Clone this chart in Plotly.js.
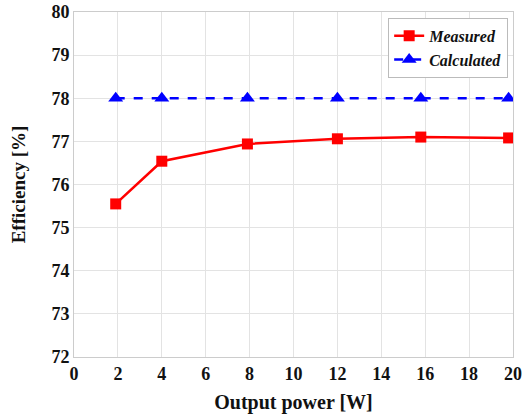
<!DOCTYPE html>
<html>
<head>
<meta charset="utf-8">
<script src="https://cdn.plot.ly/plotly-3.0.1.min.js"></script>
<style>html,body{margin:0;padding:0;background:#fff;}#chart{width:522px;height:417px;}</style>
</head>
<body>
<div id="chart"></div>
<script>
const measuredX = [1.9, 4, 7.9, 12, 15.8, 19.8];
const measuredY = [75.55, 76.54, 76.94, 77.06, 77.1, 77.08];
const calculatedX = [1.9, 4, 7.9, 12, 15.8, 19.8];
const calculatedY = [78, 78, 78, 78, 78, 78];
const xTicks = [0, 2, 4, 6, 8, 10, 12, 14, 16, 18, 20];
const yTicks = [72, 73, 74, 75, 76, 77, 78, 79, 80];

const font = "Liberation Serif";
const traces = [
  {x: measuredX, y: measuredY, name: '<b><i>Measured</i></b>', mode: 'lines+markers',
   line: {color: '#ff0000', width: 2.5}, marker: {symbol: 'square', size: 11, color: '#ff0000'}},
  {x: calculatedX, y: calculatedY, name: '<b><i>Calculated</i></b>', mode: 'lines+markers',
   line: {color: '#0000ff', width: 2.5, dash: 'dash'}, marker: {symbol: 'triangle-up', size: 13, color: '#0000ff'}}
];
const layout = {
  width: 522, height: 417,
  margin: {l: 74, r: 9, t: 12, b: 60},
  paper_bgcolor: '#fff', plot_bgcolor: '#fff',
  font: {family: font, color: '#111', size: 16},
  showlegend: true,
  legend: {x: 0.989, y: 0.983, xanchor: 'right', yanchor: 'top', bgcolor: '#fff',
    bordercolor: '#bbb', borderwidth: 1, font: {family: font, size: 16, color: '#111'}, tracegroupgap: 0,
    itemwidth: 30},
  xaxis: {range: [0, 20], tickvals: xTicks, ticktext: xTicks.map(v => '<b>' + v + '</b>'),
    showgrid: true, gridcolor: '#e3e3e3', zeroline: false, showline: true, linecolor: '#ccc', mirror: true,
    ticks: '', tickfont: {family: font, size: 18, color: '#111'},
    title: {text: '<b>Output power [W]</b>', font: {family: font, size: 20, color: '#111'}, standoff: 12}},
  yaxis: {range: [72, 80], tickvals: yTicks, ticktext: yTicks.map(v => '<b>' + v + '</b>'),
    showgrid: true, gridcolor: '#e3e3e3', zeroline: false, showline: true, linecolor: '#ccc', mirror: true,
    ticks: '', tickfont: {family: font, size: 18, color: '#111'},
    title: {text: '<b>Efficiency [%]</b>', font: {family: font, size: 19, color: '#111'}, standoff: 20}}
};
Plotly.newPlot('chart', traces, layout, {displayModeBar: false, staticPlot: true});
</script>
</body>
</html>
